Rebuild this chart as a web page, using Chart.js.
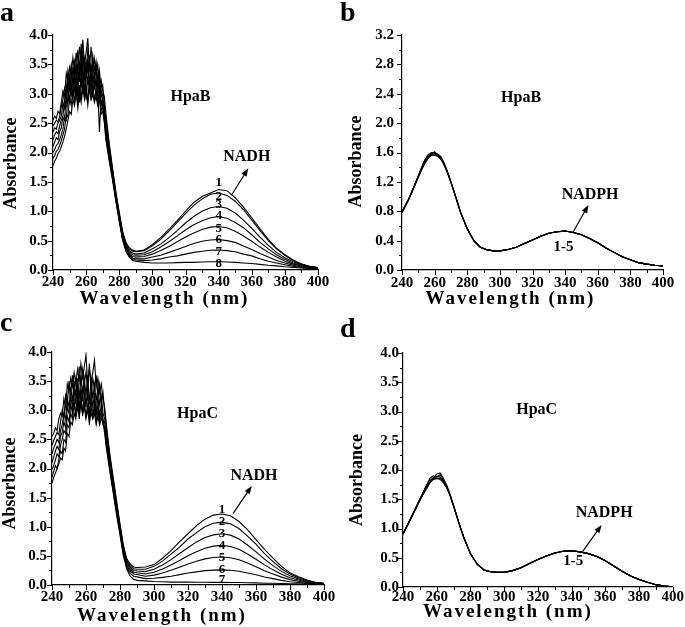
<!DOCTYPE html>
<html>
<head>
<meta charset="utf-8">
<script src="https://cdn.jsdelivr.net/npm/chart.js@4.4.1/dist/chart.umd.min.js"></script>
<style>
  body { margin: 0; background: #fff; width: 685px; height: 627px; position: relative; overflow: hidden; }
  canvas { position: absolute; }
</style>
</head>
<body>
<canvas id="chartA" width="340" height="310" style="left:0;top:0"></canvas>
<canvas id="chartB" width="345" height="310" style="left:340px;top:0"></canvas>
<canvas id="chartC" width="340" height="317" style="left:0;top:310px"></canvas>
<canvas id="chartD" width="345" height="317" style="left:340px;top:310px"></canvas>
<script>
// ---- data ----
const xTicks = [240, 260, 280, 300, 320, 340, 360, 380, 400];
const yTicks4 = [0, 0.5, 1, 1.5, 2, 2.5, 3, 3.5, 4];
const yTicks32 = [0, 0.4, 0.8, 1.2, 1.6, 2.0, 2.4, 2.8, 3.2];

// wavelengths for the NADH titrations (a, c)
const wlNADH = [240,241,242,243,244,245,246,247,248,249,250,251,252,253,254,255,256,257,258,259,260,261,262,263,264,265,266,267,268,269,270,271,272,
  274,276,278,280,282,284,286,288,
  290,295,300,305,310,315,320,325,330,335,340,345,350,355,360,365,370,375,380,385,390,395,400];

// wavelengths for the NADPH runs (b, d)
const wlNADPH = [240,244,248,252,254,256,258,260,262,264,266,268,270,273,276,280,284,288,292,296,
  300,305,310,315,320,325,330,335,340,345,350,355,360,365,370,375,380,385,390,395,400];

// panel a: HpaB + NADH, spectra 1-8
const a1 = [2.55,2.62,2.58,2.70,2.66,2.85,3.05,2.95,3.35,3.20,3.45,3.30,3.62,3.40,3.70,3.35,3.80,3.55,3.92,3.50,3.70,3.95,3.45,3.80,3.40,3.60,3.30,3.50,3.20,3.25,3.05,2.95,2.65,
  2.15,1.72,1.32,0.98,0.66,0.47,0.38,0.34,
  0.32,0.34,0.43,0.55,0.69,0.84,1.00,1.15,1.25,1.31,1.37,1.35,1.23,1.07,0.89,0.70,0.52,0.37,0.26,0.17,0.10,0.065,0.04];
const a2 = [2.45,2.50,2.55,2.52,2.62,2.78,2.90,3.10,3.00,3.40,3.25,3.50,3.30,3.55,3.35,3.75,3.40,3.85,3.45,3.60,3.30,3.75,3.55,3.35,3.65,3.40,3.55,3.20,3.40,3.10,3.15,2.80,2.55,
  2.10,1.70,1.30,0.96,0.64,0.45,0.36,0.32,
  0.31,0.33,0.41,0.52,0.66,0.81,0.96,1.10,1.21,1.29,1.31,1.27,1.17,1.03,0.85,0.67,0.50,0.36,0.25,0.16,0.10,0.06,0.04];
const a3 = [2.35,2.42,2.40,2.50,2.55,2.62,2.85,2.75,3.15,3.00,3.30,3.10,3.45,3.20,3.50,3.05,3.55,3.30,3.75,3.25,3.55,3.35,3.65,3.20,3.50,3.25,3.45,3.05,3.30,2.95,3.00,2.70,2.45,
  2.05,1.66,1.27,0.93,0.61,0.42,0.33,0.29,
  0.27,0.29,0.36,0.44,0.55,0.67,0.80,0.91,1.00,1.06,1.08,1.05,0.97,0.85,0.71,0.56,0.42,0.30,0.21,0.14,0.09,0.056,0.036];
const a4 = [2.22,2.30,2.35,2.32,2.45,2.55,2.62,2.90,2.80,3.25,3.05,3.35,3.15,3.40,3.00,3.45,3.20,3.65,3.10,3.45,3.25,3.60,3.15,3.50,3.20,3.35,3.10,3.30,2.95,3.10,2.85,2.75,2.40,
  2.00,1.63,1.25,0.91,0.59,0.40,0.31,0.26,
  0.25,0.26,0.31,0.39,0.48,0.58,0.68,0.77,0.84,0.89,0.91,0.88,0.81,0.72,0.60,0.47,0.36,0.26,0.18,0.12,0.08,0.05,0.03];
const a5 = [2.10,2.18,2.25,2.22,2.35,2.42,2.60,2.55,2.95,2.85,3.20,2.95,3.30,3.05,3.35,2.95,3.40,3.10,3.50,3.00,3.40,3.15,3.55,3.05,3.30,3.10,3.25,2.95,3.15,2.80,2.90,2.60,2.35,
  1.95,1.60,1.22,0.89,0.57,0.38,0.28,0.23,
  0.22,0.23,0.27,0.33,0.40,0.48,0.56,0.63,0.69,0.73,0.74,0.72,0.66,0.58,0.49,0.39,0.30,0.22,0.15,0.10,0.07,0.045,0.03];
const a6 = [2.00,2.05,2.12,2.15,2.22,2.30,2.40,2.62,2.55,2.95,2.85,3.15,2.90,3.25,2.95,3.30,2.85,3.35,3.00,3.40,2.90,3.30,3.05,3.40,3.00,3.20,2.95,3.15,2.35,2.90,2.75,2.65,2.30,
  1.92,1.57,1.20,0.87,0.55,0.36,0.26,0.20,
  0.19,0.19,0.22,0.25,0.30,0.35,0.40,0.45,0.49,0.51,0.52,0.50,0.47,0.41,0.35,0.28,0.22,0.16,0.12,0.08,0.055,0.038,0.027];
const a7 = [1.90,1.95,2.02,2.05,2.12,2.20,2.30,2.40,2.65,2.60,2.95,2.80,3.10,2.85,3.20,2.80,3.15,2.90,3.25,2.95,3.15,2.85,3.25,2.95,3.15,2.90,3.05,2.85,3.00,2.70,2.80,2.55,2.25,
  1.88,1.54,1.18,0.85,0.53,0.34,0.24,0.18,
  0.17,0.16,0.17,0.19,0.22,0.24,0.27,0.30,0.32,0.335,0.34,0.33,0.31,0.27,0.24,0.19,0.15,0.12,0.09,0.063,0.044,0.032,0.024];
const a8 = [1.78,1.85,1.90,1.98,2.02,2.10,2.18,2.28,2.40,2.55,2.70,2.65,2.90,2.80,3.00,2.75,3.05,2.85,3.10,2.90,3.05,2.80,3.10,2.90,3.00,2.85,2.95,2.80,2.90,2.65,2.70,2.50,2.20,
  1.85,1.52,1.16,0.83,0.51,0.32,0.22,0.16,
  0.15,0.13,0.12,0.12,0.12,0.125,0.13,0.13,0.135,0.14,0.14,0.135,0.13,0.12,0.11,0.095,0.08,0.07,0.055,0.045,0.033,0.026,0.02];

// panel b: HpaB + NADPH, spectra 1-5
const b1 = [0.79,0.96,1.17,1.39,1.48,1.55,1.59,1.60,1.57,1.52,1.44,1.33,1.20,
  0.99,0.78,0.56,0.40,0.31,0.275,0.26,0.26,0.28,0.31,0.36,0.41,0.46,0.50,0.52,0.53,0.51,0.48,0.43,0.37,0.30,0.24,0.18,0.14,0.10,0.08,0.065,0.055];
const b2 = [0.79,0.96,1.17,1.40,1.50,1.57,1.60,1.59,1.58,1.54,1.45,1.33,1.20,
  0.99,0.78,0.56,0.40,0.31,0.275,0.26,0.26,0.28,0.31,0.36,0.41,0.46,0.50,0.52,0.53,0.51,0.48,0.43,0.37,0.30,0.24,0.18,0.14,0.10,0.08,0.065,0.055];
const b3 = [0.78,0.95,1.16,1.37,1.46,1.53,1.57,1.56,1.55,1.50,1.42,1.32,1.19,
  0.99,0.78,0.56,0.40,0.31,0.275,0.26,0.26,0.28,0.31,0.36,0.41,0.46,0.50,0.52,0.53,0.51,0.48,0.43,0.37,0.30,0.24,0.18,0.14,0.10,0.08,0.065,0.055];
const b4 = [0.79,0.96,1.17,1.38,1.49,1.54,1.58,1.61,1.56,1.53,1.43,1.33,1.20,
  0.99,0.78,0.56,0.40,0.31,0.275,0.26,0.26,0.28,0.31,0.36,0.41,0.46,0.50,0.52,0.53,0.51,0.48,0.43,0.37,0.30,0.24,0.18,0.14,0.10,0.08,0.065,0.055];
const b5 = [0.79,0.96,1.16,1.36,1.45,1.52,1.56,1.58,1.55,1.51,1.43,1.31,1.19,
  0.99,0.78,0.56,0.40,0.31,0.275,0.26,0.26,0.28,0.31,0.36,0.41,0.46,0.50,0.52,0.53,0.51,0.48,0.43,0.37,0.30,0.24,0.18,0.14,0.10,0.08,0.065,0.055];

// panel c: HpaC + NADH, spectra 1-7
const c1 = [2.55,2.60,2.70,2.65,2.85,2.95,2.90,3.20,3.05,3.45,3.30,3.55,3.40,3.65,3.45,3.70,3.50,3.80,3.55,3.75,3.95,3.45,3.70,3.50,3.65,3.86,3.40,3.55,3.30,3.45,3.20,3.05,2.75,
  2.25,1.85,1.45,1.05,0.68,0.45,0.36,0.31,
  0.30,0.31,0.35,0.46,0.59,0.74,0.88,1.02,1.13,1.20,1.22,1.19,1.09,0.95,0.78,0.61,0.46,0.32,0.21,0.14,0.085,0.048,0.03];
const c2 = [2.40,2.48,2.55,2.62,2.58,2.80,3.00,2.85,3.25,3.10,3.50,3.25,3.60,3.35,3.55,3.30,3.75,3.40,3.70,3.45,3.65,3.35,3.80,3.30,3.55,3.35,3.60,3.25,3.45,3.10,3.30,2.95,2.70,
  2.20,1.80,1.40,1.01,0.65,0.42,0.33,0.28,
  0.27,0.27,0.32,0.41,0.53,0.65,0.79,0.90,1.00,1.06,1.08,1.05,0.97,0.84,0.70,0.54,0.40,0.28,0.19,0.125,0.076,0.043,0.028];
const c3 = [2.25,2.35,2.42,2.50,2.45,2.65,2.75,2.95,2.85,3.20,3.05,3.40,3.15,3.50,3.25,3.55,3.20,3.60,3.30,3.55,3.25,3.60,3.10,3.55,3.20,3.45,3.15,3.40,3.10,3.25,2.95,2.85,2.60,
  2.15,1.75,1.36,0.98,0.62,0.39,0.30,0.25,
  0.24,0.23,0.27,0.345,0.435,0.54,0.64,0.74,0.815,0.86,0.88,0.856,0.79,0.686,0.568,0.443,0.332,0.234,0.157,0.105,0.065,0.037,0.024];
const c4 = [2.10,2.20,2.30,2.38,2.32,2.55,2.62,2.80,2.70,3.05,2.95,3.25,3.05,3.35,3.10,3.45,2.95,3.40,3.15,3.50,3.05,3.40,2.75,3.35,3.05,3.30,2.95,3.25,2.90,3.10,2.80,2.80,2.50,
  2.10,1.70,1.32,0.95,0.59,0.36,0.27,0.22,
  0.21,0.19,0.22,0.276,0.343,0.422,0.502,0.572,0.632,0.667,0.68,0.662,0.612,0.531,0.441,0.345,0.26,0.184,0.124,0.085,0.053,0.03,0.021];
const c5 = [1.98,2.05,2.15,2.25,2.20,2.40,2.50,2.65,2.60,2.90,2.80,3.10,2.95,3.20,2.90,3.30,3.05,3.35,2.90,3.30,3.10,3.25,2.95,3.20,2.85,3.15,2.90,3.10,2.85,3.00,2.75,2.70,2.45,
  2.05,1.66,1.28,0.92,0.56,0.33,0.24,0.19,
  0.18,0.15,0.17,0.207,0.252,0.306,0.361,0.407,0.448,0.471,0.48,0.468,0.433,0.376,0.314,0.246,0.188,0.135,0.092,0.064,0.041,0.024,0.017];
const c6 = [1.85,1.95,2.05,2.00,2.15,2.30,2.25,2.50,2.45,2.75,2.70,2.95,2.85,3.10,2.95,3.15,2.85,3.20,2.95,3.15,2.90,3.10,2.85,3.05,2.90,3.05,2.80,3.00,2.80,2.90,2.85,2.65,2.40,
  2.00,1.62,1.24,0.89,0.53,0.30,0.20,0.15,
  0.14,0.11,0.115,0.131,0.151,0.178,0.206,0.226,0.247,0.255,0.26,0.254,0.236,0.206,0.175,0.138,0.109,0.08,0.056,0.042,0.028,0.017,0.014];
const c7 = [1.75,1.85,1.92,2.00,2.08,2.18,2.15,2.35,2.30,2.60,2.55,2.80,2.75,2.95,2.85,3.05,2.90,3.10,2.95,3.05,2.85,3.00,2.80,2.95,2.85,2.95,2.75,2.90,2.75,2.85,2.80,2.60,2.35,
  1.95,1.58,1.20,0.86,0.50,0.27,0.15,0.10,
  0.08,0.07,0.06,0.055,0.05,0.05,0.05,0.048,0.048,0.045,0.045,0.044,0.043,0.038,0.036,0.031,0.03,0.025,0.02,0.02,0.015,0.01,0.01];

// panel d: HpaC + NADPH, spectra 1-5
const d1 = [0.91,1.14,1.38,1.62,1.73,1.84,1.86,1.93,1.95,1.86,1.72,1.57,1.39,
  1.11,0.85,0.57,0.39,0.29,0.26,0.25,0.25,0.28,0.33,0.40,0.47,0.53,0.58,0.61,0.62,0.60,0.57,0.52,0.45,0.36,0.27,0.19,0.13,0.08,0.04,0.015,0.005];
const d2 = [0.90,1.13,1.36,1.60,1.70,1.79,1.84,1.85,1.86,1.80,1.70,1.55,1.38,
  1.11,0.85,0.57,0.39,0.29,0.26,0.25,0.25,0.28,0.33,0.40,0.47,0.53,0.58,0.61,0.62,0.60,0.57,0.52,0.45,0.36,0.27,0.19,0.13,0.08,0.04,0.015,0.005];
const d3 = [0.91,1.14,1.38,1.62,1.75,1.86,1.90,1.88,1.92,1.83,1.74,1.57,1.39,
  1.11,0.85,0.57,0.39,0.29,0.26,0.25,0.25,0.28,0.33,0.40,0.47,0.53,0.58,0.61,0.62,0.60,0.57,0.52,0.45,0.36,0.27,0.19,0.13,0.08,0.04,0.015,0.005];
const d4 = [0.91,1.14,1.37,1.61,1.72,1.80,1.87,1.89,1.88,1.82,1.71,1.57,1.39,
  1.11,0.85,0.57,0.39,0.29,0.26,0.25,0.25,0.28,0.33,0.40,0.47,0.53,0.58,0.61,0.62,0.60,0.57,0.52,0.45,0.36,0.27,0.19,0.13,0.08,0.04,0.015,0.005];
const d5 = [0.90,1.13,1.37,1.58,1.68,1.78,1.85,1.86,1.84,1.78,1.69,1.56,1.38,
  1.11,0.85,0.57,0.39,0.29,0.26,0.25,0.25,0.28,0.33,0.40,0.47,0.53,0.58,0.61,0.62,0.60,0.57,0.52,0.45,0.36,0.27,0.19,0.13,0.08,0.04,0.015,0.005];

// curve numbers (placed at 340 nm) and text notes, in data units
const numYA = [1.48, 1.25, 1.12, 0.92, 0.70, 0.51, 0.31, 0.10];
const numYC = [1.29, 1.09, 0.89, 0.67, 0.47, 0.26, 0.10];
const notesA = [{text: "HpaB", x: 323, y: 2.94, size: 16}, {text: "NADH", x: 357, y: 1.92, size: 16}];
const notesB = [{text: "HpaB", x: 313, y: 2.35, size: 16}, {text: "NADPH", x: 355.3, y: 1.02, size: 16}, {text: "1-5", x: 339, y: 0.317, size: 15}];
const notesC = [{text: "HpaC", x: 325.6, y: 2.93, size: 16}, {text: "NADH", x: 358.8, y: 1.88, size: 16}];
const notesD = [{text: "HpaC", x: 319.3, y: 3.03, size: 16}, {text: "NADPH", x: 359.3, y: 1.26, size: 16}, {text: "1-5", x: 341, y: 0.44, size: 15}];
const arrowA = {from: [347.9, 1.28], to: [357.9, 1.73]};
const arrowB = {from: [345.0, 0.52], to: [354.3, 0.885]};
const arrowC = {from: [346.6, 1.23], to: [357.5, 1.70]};
const arrowD = {from: [346.6, 0.61], to: [357.8, 1.06]};

// ---- drawing ----
const serif = "'Liberation Serif', 'Times New Roman', serif";
Chart.defaults.color = "#000";

// major + minor tick marks outside the axes
const tickMarks = {
    id: "tickMarks",
    afterDraw(chart) {
        const {ctx, scales: {x, y}} = chart;
        const xt = x.ticks.map(t => t.value);
        const yt = y.ticks.map(t => t.value);
        ctx.save();
        ctx.strokeStyle = "#000";
        ctx.lineWidth = 1;
        ctx.beginPath();
        xt.forEach((v, i) => {
            const px = Math.round(x.getPixelForValue(v)) + 0.5;
            ctx.moveTo(px, y.bottom); ctx.lineTo(px, y.bottom + 5);
            if (i < xt.length - 1) {
                const mx = Math.round(x.getPixelForValue((v + xt[i + 1]) / 2)) + 0.5;
                ctx.moveTo(mx, y.bottom); ctx.lineTo(mx, y.bottom + 3);
            }
        });
        yt.forEach((v, i) => {
            const py = Math.round(y.getPixelForValue(v)) + 0.5;
            ctx.moveTo(x.left, py); ctx.lineTo(x.left - 5, py);
            if (i < yt.length - 1) {
                const my = Math.round(y.getPixelForValue((v + yt[i + 1]) / 2)) + 0.5;
                ctx.moveTo(x.left, my); ctx.lineTo(x.left - 3, my);
            }
        });
        ctx.stroke();
        ctx.restore();
    }
};

// panel texts, curve numbers and the arrow
const notes = {
    id: "notes",
    afterDatasetsDraw(chart, args, opts) {
        const {ctx, scales: {x, y}} = chart;
        ctx.save();
        ctx.fillStyle = "#000";
        ctx.strokeStyle = "#000";
        ctx.textAlign = "center";
        ctx.textBaseline = "middle";
        (opts.labels || []).forEach(l => {
            ctx.font = "bold " + l.size + "px " + serif;
            ctx.fillText(l.text, x.getPixelForValue(l.x), y.getPixelForValue(l.y));
        });
        const a = opts.arrow;
        if (a) {
            const x0 = x.getPixelForValue(a.from[0]), y0 = y.getPixelForValue(a.from[1]);
            const x1 = x.getPixelForValue(a.to[0]), y1 = y.getPixelForValue(a.to[1]);
            const ang = Math.atan2(y1 - y0, x1 - x0);
            const c = Math.cos(ang), s = Math.sin(ang);
            ctx.lineWidth = 1.2;
            ctx.beginPath();
            ctx.moveTo(x0, y0);
            ctx.lineTo(x1 - 6 * c, y1 - 6 * s);
            ctx.stroke();
            ctx.beginPath();
            ctx.moveTo(x1, y1);
            ctx.lineTo(x1 - 8 * c + 3 * s, y1 - 8 * s - 3 * c);
            ctx.lineTo(x1 - 8 * c - 3 * s, y1 - 8 * s + 3 * c);
            ctx.closePath();
            ctx.fill();
        }
        ctx.restore();
    }
};

// axis titles sit off-centre in the original; x title is letter-spaced
const titleShift = {
    id: "titleShift",
    afterLayout(chart, args, opts) {
        ["x", "y"].forEach(id => {
            const s = chart.scales[id];
            if (s._shifted) return;
            const drawTitle = s.drawTitle;
            s.drawTitle = function () {
                const c = this.ctx;
                c.save();
                if (id === "x") c.letterSpacing = "2px";
                c.translate(id === "x" ? opts.dx : 0, id === "y" ? opts.dy : 0);
                drawTitle.call(this);
                c.restore();
            };
            s._shifted = true;
        });
    }
};

function makePanel(id, cfg) {
    const datasets = cfg.series.map(vals => ({
        data: vals.map((v, i) => ({x: cfg.wl[i], y: v})),
        borderColor: "#000",
        borderWidth: 1.1,
        pointRadius: 0,
        tension: 0,
        fill: false
    }));
    const tickFont = {family: serif, size: 15, weight: "bold"};
    return new Chart(document.getElementById(id), {
        type: "line",
        data: {datasets},
        options: {
            responsive: false,
            animation: false,
            events: [],
            layout: {padding: {left: 0, top: 0, bottom: 0, right: cfg.padRight}},
            plugins: {
                legend: {display: false},
                tooltip: {enabled: false},
                title: {
                    display: true, text: cfg.letter, align: "start", color: "#000",
                    font: {family: serif, size: 28, weight: "bold", lineHeight: 1},
                    padding: cfg.letterPad
                },
                notes: {labels: cfg.labels, arrow: cfg.arrow},
                titleShift: {dx: cfg.shift[0], dy: cfg.shift[1]}
            },
            scales: {
                x: {
                    type: "linear", min: 240, max: 400,
                    afterBuildTicks: s => { s.ticks = xTicks.map(v => ({value: v})); },
                    afterFit: s => { s.height = cfg.xHeight; },
                    grid: {display: false, drawTicks: false},
                    border: {display: true, color: "#000", width: 1.2},
                    ticks: {font: tickFont, padding: cfg.xPad, maxRotation: 0, autoSkip: false, callback: v => String(v)},
                    title: {display: true, text: "Wavelength (nm)", font: {family: serif, size: 19, weight: "bold"}, padding: {top: 0, bottom: cfg.xTitlePad}}
                },
                y: {
                    type: "linear", min: 0, max: cfg.yTicks[cfg.yTicks.length - 1],
                    afterBuildTicks: s => { s.ticks = cfg.yTicks.map(v => ({value: v})); },
                    afterFit: s => { s.width = cfg.yWidth; },
                    grid: {display: false, drawTicks: false},
                    border: {display: true, color: "#000", width: 1.2},
                    ticks: {font: tickFont, padding: cfg.yPad, autoSkip: false, callback: v => v.toFixed(1)},
                    title: {display: true, text: "Absorbance", font: {family: serif, size: 18, weight: "bold"}, padding: {top: cfg.yTitlePad, bottom: 0}}
                }
            }
        },
        plugins: [tickMarks, notes, titleShift]
    });
}

function numberLabels(ys) {
    return ys.map((v, i) => ({text: String(i + 1), x: 340, y: v, size: 13}));
}

makePanel("chartA", {
    letter: "a", wl: wlNADH, series: [a1, a2, a3, a4, a5, a6, a7, a8], yTicks: yTicks4,
    padRight: 22, letterPad: {top: 0, bottom: 7}, yWidth: 53, xHeight: 40,
    xPad: 3, yPad: 5, xTitlePad: 0, yTitlePad: 1, shift: [-21, 11],
    labels: notesA.concat(numberLabels(numYA)), arrow: arrowA
});
makePanel("chartB", {
    letter: "b", wl: wlNADPH, series: [b1, b2, b3, b4, b5], yTicks: yTicks32,
    padRight: 22, letterPad: {top: 0, bottom: 7}, yWidth: 62, xHeight: 40,
    xPad: 4.5, yPad: 8, xTitlePad: 0, yTitlePad: 6, shift: [-22, 9],
    labels: notesB, arrow: arrowB
});
makePanel("chartC", {
    letter: "c", wl: wlNADH, series: [c1, c2, c3, c4, c5, c6, c7], yTicks: yTicks4,
    padRight: 16, letterPad: {top: 0, bottom: 14}, yWidth: 52, xHeight: 42,
    xPad: 3.5, yPad: 5, xTitlePad: 0, yTitlePad: 0, shift: [-26, 15],
    labels: notesC.concat(numberLabels(numYC)), arrow: arrowC
});
makePanel("chartD", {
    letter: "d", wl: wlNADPH, series: [d1, d2, d3, d4, d5], yTicks: yTicks4,
    padRight: 12, letterPad: {top: 6, bottom: 9}, yWidth: 63, xHeight: 40,
    xPad: 1, yPad: 4, xTitlePad: 4, yTitlePad: 7, shift: [-30, 10],
    labels: notesD, arrow: arrowD
});
</script>
</body>
</html>
